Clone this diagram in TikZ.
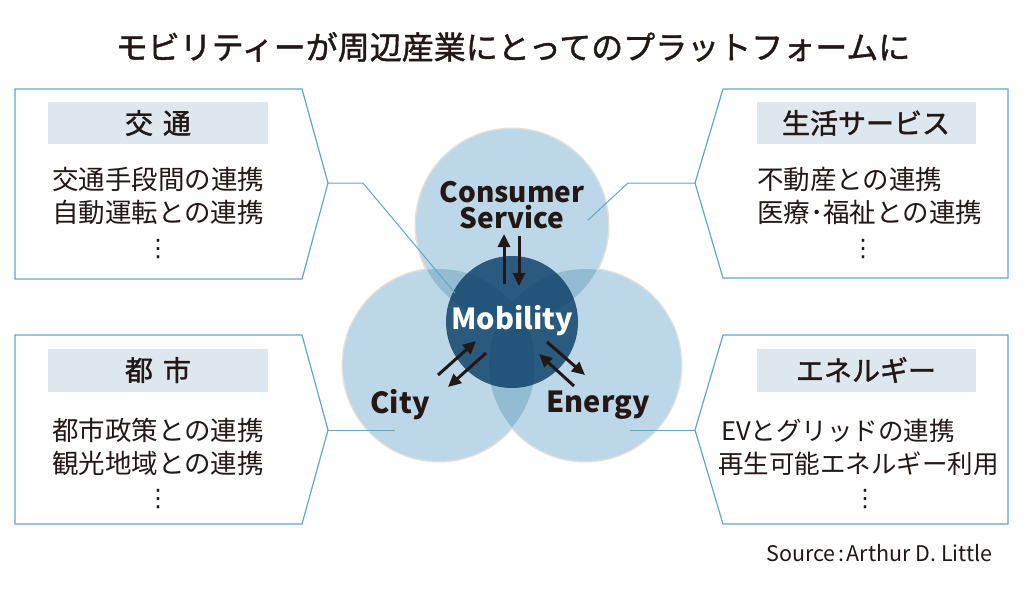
\documentclass[tikz,border=0pt]{standalone}
\usepackage{fontspec}
\newfontfamily\jp{Noto Sans CJK JP}
\newfontfamily\jpmed[FakeBold=1.4]{Noto Sans CJK JP}
\newfontfamily\symf{DejaVu Sans}
\usetikzlibrary{arrows.meta}

\definecolor{ink}{HTML}{231815}
\definecolor{frameblue}{HTML}{62A6C8}
\definecolor{bandgray}{HTML}{DFE7EE}
\definecolor{ringshade}{HTML}{E6DFD9}
\definecolor{ringlight}{HTML}{BCD8E8}
\definecolor{ringmid}{HTML}{93BBD2}
\definecolor{mobblue}{HTML}{0A3F66}

\tikzset{
  callout/.style={draw=frameblue, line width=1.2pt, fill=white},
  band/.style={fill=bandgray},
  bandtext/.style={font=\jpmed\fontsize{28}{34}\selectfont, text=ink},
  body/.style={font=\jp\fontsize{26.5}{33}\selectfont, text=ink, inner sep=0pt},
  dotline/.style={font=\symf\fontsize{24}{24}\selectfont, text=ink, inner sep=0pt},
  link/.style={draw=frameblue, line width=1pt},
  ring/.style={fill=ringlight},
  ringlabel/.style={font=\jp\bfseries\fontsize{29}{24}\selectfont, text=ink, inner sep=0pt},
  flow/.style={->, draw=ink, line width=3pt}
}

\begin{document}
\begin{tikzpicture}[x=1pt, y=-1pt, >={Triangle[length=13pt,width=12pt]}]
  \useasboundingbox (0,0) rectangle (1024,592);

  \node[font=\jpmed\fontsize{32}{36}\selectfont, text=ink] (title) at (513,47)
    {モビリティーが周辺産業にとってのプラットフォームに};

  % callout frames
  \draw[callout] (15,89) -- (302,89) -- (328,183) coordinate (kotsuTip) -- (302,279) -- (15,279) -- cycle;
  \draw[callout] (1008,89) -- (723,89) -- (695,183) coordinate (lifeTip) -- (723,278) -- (1008,278) -- cycle;
  \draw[callout] (15,335) -- (302,335) -- (328,430) coordinate (cityTip) -- (302,524) -- (15,524) -- cycle;
  \draw[callout] (1008,335) -- (723,335) -- (695,430) coordinate (enerTip) -- (723,524) -- (1008,524) -- cycle;

  \fill[band] (48,102) rectangle (268,144);
  \fill[band] (757,102) rectangle (976,144);
  \fill[band] (48,349) rectangle (268,392);
  \fill[band] (757,349) rectangle (976,392);

  \node[bandtext] (kotsuHead) at (158,123) {交\hspace{10pt}通};
  \node[bandtext] (lifeHead) at (866,123) {生活サービス};
  \node[bandtext] (cityHead) at (158,370) {都\hspace{10pt}市};
  \node[bandtext] (enerHead) at (866,370) {エネルギー};

  \node[body, align=center] (kotsuBody) at (158,196) {交通手段間の連携\\自動運転との連携};
  \node[body, align=left, anchor=west] (lifeBody) at (757,196) {不動産との連携\\医療･福祉との連携};
  \node[body, align=center] (cityBody) at (158,447) {都市政策との連携\\観光地域との連携};
  \node[body, align=left, anchor=west, font=\jp\fontsize{25.5}{33}\selectfont] (enerBody) at (718,447)
    {\hspace{3pt}EVとグリッドの連携\\再生可能エネルギー利用};

  \node[dotline] (kotsuDots) at (158,249) {⋮};
  \node[dotline] (lifeDots) at (863,249) {⋮};
  \node[dotline] (cityDots) at (158,499) {⋮};
  \node[dotline] (enerDots) at (865,499) {⋮};

  % venn circles
  \coordinate (cs) at (512,225);
  \coordinate (ci) at (439,365);
  \coordinate (en) at (585,365);
  \coordinate (mo) at (512,322);

  \fill[ringshade] (cs) circle (97.5);
  \fill[ringshade] (ci) circle (97.5);
  \fill[ringshade] (en) circle (97.5);
  \fill[ring] (cs) circle (96);
  \fill[ring] (ci) circle (96);
  \fill[ring] (en) circle (96);
  \begin{scope}
    \clip (cs) circle (96);
    \fill[ringmid] (ci) circle (96);
    \fill[ringmid] (en) circle (96);
  \end{scope}
  \begin{scope}
    \clip (ci) circle (96);
    \fill[ringmid] (en) circle (96);
  \end{scope}
  \fill[mobblue, fill opacity=0.82] (mo) circle (66);

  \node[ringlabel, anchor=base, font=\jp\bfseries\fontsize{28}{24}\selectfont] (consumer) at (512,202) {Consumer};
  \node[ringlabel, anchor=base, font=\jp\bfseries\fontsize{28}{24}\selectfont] (service) at (512,228) {Service};
  \node[ringlabel, text=white] (mobility) at (512,321) {Mobility};
  \node[ringlabel] (city) at (400,405) {City};
  \node[ringlabel] (energy) at (598,405) {Energy};

  \draw[flow] (504,284) -- (504,234);
  \draw[flow] (519,236) -- (519,286);
  \draw[flow] (438,375) -- (476,341);
  \draw[flow] (486,353) -- (448,387);
  \draw[flow] (547,342) -- (585,375);
  \draw[flow] (574,386) -- (539,354);

  % leader lines
  \coordinate (kotsuEnd) at (455,293);
  \coordinate (lifeEnd) at (588,220);
  \coordinate (cityEnd) at (395,430);
  \coordinate (enerEnd) at (630,430);
  \draw[link] (kotsuTip) -- (363,183) -- (kotsuEnd);
  \draw[link] (lifeTip) -- (628,183) -- (lifeEnd);
  \draw[link] (cityTip) -- (cityEnd);
  \draw[link] (enerTip) -- (enerEnd);

  \node[anchor=east, font=\jp\fontsize{21.5}{22}\selectfont, text=ink] (source) at (996,553)
    {Source\hspace{3pt}:\hspace{2pt}Arthur D. Little};
\end{tikzpicture}
\end{document}
